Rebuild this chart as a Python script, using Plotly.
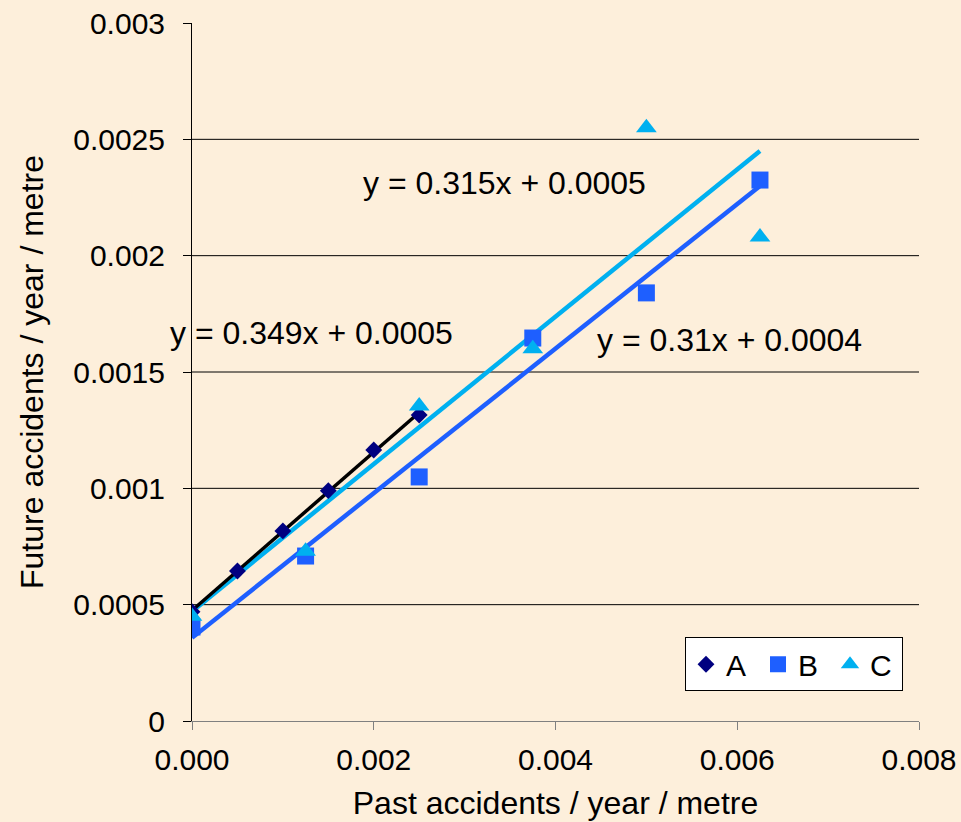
import numpy as np
import plotly.graph_objects as go

# Data
a_x = [0.0, 0.0005, 0.001, 0.0015, 0.002, 0.0025]
a_y = [0.00047, 0.000645, 0.000817, 0.00099, 0.001165, 0.001315]
b_x = [0.0, 0.00125, 0.0025, 0.00375, 0.005, 0.00625]
b_y = [0.000404, 0.000709, 0.001049, 0.001646, 0.00184, 0.002325]
c_x = [0.0, 0.00125, 0.0025, 0.00375, 0.005, 0.00625]
c_y = [0.00045, 0.00073, 0.001354, 0.0016, 0.00255, 0.00208]

eq_labels = ["y = 0.349x + 0.0005", "y = 0.31x + 0.0004", "y = 0.315x + 0.0005"]
eq_pos = [(0.00132, 0.001668), (0.00591, 0.001638), (0.003444, 0.002312)]

x_ticks = [0, 0.002, 0.004, 0.006, 0.008]
y_ticks = [0, 0.0005, 0.001, 0.0015, 0.002, 0.0025, 0.003]
y_tick_text = ["0", "0.0005", "0.001", "0.0015", "0.002", "0.0025", "0.003"]

col_a, col_b, col_c = "#000080", "#1E5FFF", "#00B0F0"
bg = "#FDEFDB"
font = "Liberation Sans, Arial, sans-serif"

fig = go.Figure()

# horizontal gridlines (interior ticks only, as in the reference)
for yv in y_ticks[1:-1]:
    fig.add_shape(type="line", xref="paper", x0=0, x1=1, yref="y", y0=yv, y1=yv,
                  line=dict(color="black", width=1), layer="below")

def trend(xs, ys, color, width):
    m, c = np.polyfit(xs, ys, 1)
    xx = np.array([min(xs), max(xs)])
    fig.add_trace(go.Scatter(x=xx, y=m * xx + c, mode="lines",
                             line=dict(color=color, width=width),
                             showlegend=False, hoverinfo="skip"))

trend(b_x, b_y, col_b, 4.5)
trend(c_x, c_y, col_c, 4.5)
trend(a_x, a_y, "#000000", 3.5)

fig.add_trace(go.Scatter(x=a_x, y=a_y, mode="markers", name="A",
                         marker=dict(symbol="diamond", size=13, color=col_a)))
fig.add_trace(go.Scatter(x=b_x, y=b_y, mode="markers", name="B",
                         marker=dict(symbol="square", size=17, color=col_b)))
fig.add_trace(go.Scatter(x=c_x, y=c_y, mode="markers", name="C",
                         marker=dict(symbol="triangle-up", size=18, color=col_c)))

for txt, (x, y) in zip(eq_labels, eq_pos):
    fig.add_annotation(x=x, y=y, text=txt, showarrow=False,
                       font=dict(size=32, color="black", family=font))

fig.update_layout(
    width=961, height=822,
    paper_bgcolor=bg, plot_bgcolor=bg,
    margin=dict(l=192, r=42, t=23, b=101, pad=0),
    font=dict(family=font, size=30, color="black"),
    legend=dict(orientation="h", x=0.978, xanchor="right", y=0.12, yanchor="top",
                bgcolor="white", bordercolor="black", borderwidth=1,
                font=dict(size=30), itemwidth=30, entrywidth=27,
                tracegroupgap=0),
    xaxis=dict(range=[0, 0.008], tickvals=x_ticks, tickformat=".3f",
               showgrid=False, zeroline=False, showline=True, linecolor="#808080",
               linewidth=1, ticks="outside", ticklen=8, tickcolor="#808080",
               tickfont=dict(size=30), ticklabelstandoff=4, automargin=False,
               title=dict(text="Past accidents / year / metre", standoff=16,
                          font=dict(size=32))),
    yaxis=dict(range=[0, 0.003], tickvals=y_ticks, ticktext=y_tick_text,
               showgrid=False, zeroline=False,
               showline=True, linecolor="black", linewidth=1,
               ticks="outside", ticklen=8, tickcolor="black",
               tickfont=dict(size=30), ticklabelstandoff=12, automargin=False,
               title=dict(text="Future accidents / year / metre", standoff=20,
                          font=dict(size=32))),
)

fig.write_html("out.html", config={"displayModeBar": False},
               post_script="document.body.style.margin='0px';document.body.style.background='%s';" % bg)
